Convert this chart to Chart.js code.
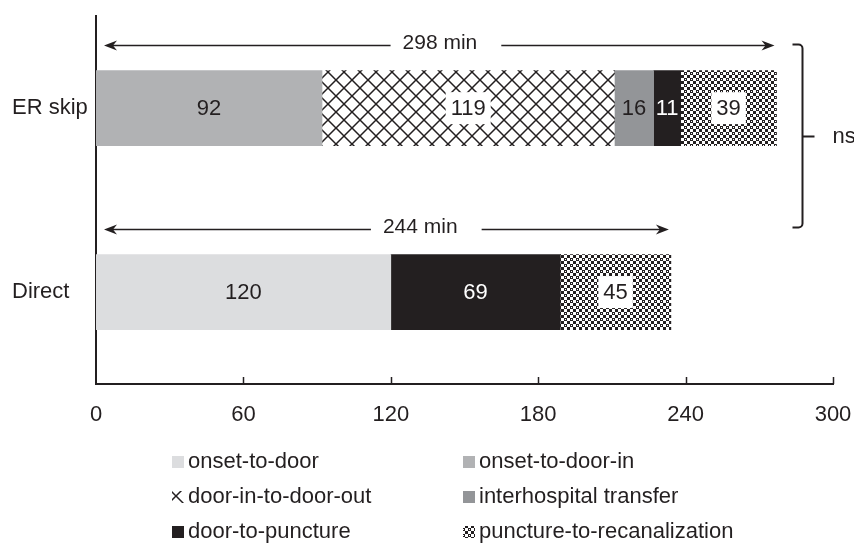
<!DOCTYPE html>
<html lang="en">
<head>
<meta charset="UTF-8">
<title>Onset-to-recanalization time: ER skip vs Direct</title>
<script src="https://cdn.jsdelivr.net/npm/chart.js"></script>
<style>
  html, body { margin: 0; padding: 0; background: #fff; }
  #chart { display: block; }
</style>
</head>
<body>
<canvas id="chart" width="854" height="553"></canvas>
<script>
// data
const categories = ['ER skip', 'Direct'];
const onsetToDoor = [null, 120];
const onsetToDoorIn = [92, null];
const doorInToDoorOut = [119, null];
const interhospitalTransfer = [16, null];
const doorToPuncture = [11, 69];
const punctureToRecanalization = [39, 45];
const totalMinutes = [298, 244];
const xTicks = [0, 60, 120, 180, 240, 300];
const significance = 'ns';

// where the "min" labels sit along each arrow (x value)
const totalLabelAt = [140, 132];

const INK = '#231f20';
const FONT_FAMILY = '"Liberation Sans", Arial, Helvetica, sans-serif';
const FONT = '22px ' + FONT_FAMILY;

function latticePattern() {
  const c = document.createElement('canvas');
  c.width = 16; c.height = 16;
  const g = c.getContext('2d');
  g.fillStyle = '#fff';
  g.fillRect(0, 0, 16, 16);
  g.strokeStyle = INK;
  g.lineWidth = 1.5;
  g.beginPath();
  for (const dx of [-16, 0, 16]) {
    g.moveTo(dx - 2, -2); g.lineTo(dx + 18, 18);
    g.moveTo(dx + 18, -2); g.lineTo(dx - 2, 18);
  }
  g.stroke();
  return g.createPattern(c, 'repeat');
}

function checkerPattern() {
  const c = document.createElement('canvas');
  c.width = 6; c.height = 6;
  const g = c.getContext('2d');
  g.fillStyle = '#fff';
  g.fillRect(0, 0, 6, 6);
  g.fillStyle = INK;
  g.fillRect(0, 0, 3, 3);
  g.fillRect(3, 3, 3, 3);
  g.fillStyle = '#fff';
  g.fillRect(1, 1, 1, 1);
  g.fillStyle = INK;
  g.fillRect(4, 4, 1, 1);
  return g.createPattern(c, 'repeat');
}

const datasets = [
  { label: 'onset-to-door', data: onsetToDoor, backgroundColor: '#dcdddf' },
  { label: 'onset-to-door-in', data: onsetToDoorIn, backgroundColor: '#b1b2b4' },
  { label: 'door-in-to-door-out', data: doorInToDoorOut, backgroundColor: latticePattern(), labelBox: true },
  { label: 'interhospital transfer', data: interhospitalTransfer, backgroundColor: '#939598' },
  { label: 'door-to-puncture', data: doorToPuncture, backgroundColor: INK, labelColor: '#fff' },
  { label: 'puncture-to-recanalization', data: punctureToRecanalization, backgroundColor: checkerPattern(), labelBox: true }
].map(d => Object.assign({ barThickness: 75, borderWidth: 0 }, d));

// numbers inside the segments
const valueLabels = {
  id: 'valueLabels',
  afterDatasetsDraw(chart) {
    const ctx = chart.ctx;
    ctx.save();
    ctx.font = FONT;
    ctx.textAlign = 'center';
    ctx.textBaseline = 'middle';
    chart.data.datasets.forEach((ds, di) => {
      chart.getDatasetMeta(di).data.forEach((bar, i) => {
        const v = ds.data[i];
        if (v == null) return;
        const p = bar.getCenterPoint();
        const txt = String(v);
        if (ds.labelBox) {
          const w = ctx.measureText(txt).width + 10;
          ctx.fillStyle = '#fff';
          ctx.fillRect(p.x - w / 2, p.y - 16, w, 32);
        }
        ctx.fillStyle = ds.labelColor || INK;
        ctx.fillText(txt, p.x, p.y + 1);
      });
    });
    ctx.restore();
  }
};

function arrowHead(ctx, x, y, dir) {
  ctx.beginPath();
  ctx.moveTo(x, y);
  ctx.lineTo(x - dir * 13, y - 5);
  ctx.lineTo(x - dir * 9, y);
  ctx.lineTo(x - dir * 13, y + 5);
  ctx.closePath();
  ctx.fill();
}

// total-time arrows, bracket, x tick marks and legend
const annotations = {
  id: 'annotations',
  afterDraw(chart) {
    const ctx = chart.ctx;
    const xs = chart.scales.x, ys = chart.scales.y;
    const area = chart.chartArea;
    ctx.save();
    ctx.strokeStyle = INK;
    ctx.fillStyle = INK;

    // tick marks pointing up from the x axis
    ctx.lineWidth = 1.5;
    xTicks.slice(1).forEach(v => {
      const x = Math.round(xs.getPixelForValue(v)) + 0.5;
      ctx.beginPath();
      ctx.moveTo(x, area.bottom);
      ctx.lineTo(x, area.bottom - 7);
      ctx.stroke();
    });

    ctx.font = '21px ' + FONT_FAMILY;
    const arrowY = [];
    categories.forEach((c, i) => {
      const total = chart.data.datasets.reduce((s, ds) => s + (ds.data[i] || 0), 0);
      const y = Math.round(ys.getPixelForValue(i) - 63) + 0.5;
      arrowY.push(y);
      const x0 = xs.getPixelForValue(0) + 8;
      const x1 = xs.getPixelForValue(total) - 2;
      ctx.lineWidth = 1.5;
      ctx.beginPath();
      ctx.moveTo(x0 + 4, y);
      ctx.lineTo(x1 - 4, y);
      ctx.stroke();
      arrowHead(ctx, x0, y, -1);
      arrowHead(ctx, x1, y, 1);

      const txt = totalMinutes[i] + ' min';
      const cx = xs.getPixelForValue(totalLabelAt[i]);
      const w = ctx.measureText(txt).width;
      ctx.fillStyle = '#fff';
      ctx.fillRect(cx - w / 2 - 12, y - 12, w + 36, 24);
      ctx.fillStyle = INK;
      ctx.textAlign = 'center';
      ctx.textBaseline = 'middle';
      ctx.fillText(txt, cx, y - 2);
    });

    // bracket with "ns"
    ctx.font = FONT;
    const bx = area.right - 30.5;
    const top = arrowY[0] - 1, bot = arrowY[1] - 2;
    const mid = Math.round((top + bot) / 2) + 0.5;
    ctx.lineWidth = 2;
    ctx.beginPath();
    ctx.moveTo(bx - 10, top);
    ctx.arcTo(bx, top, bx, top + 4, 4);
    ctx.lineTo(bx, bot - 4);
    ctx.arcTo(bx, bot, bx - 10, bot, 4);
    ctx.lineTo(bx - 10, bot);
    ctx.moveTo(bx, mid);
    ctx.lineTo(bx + 12, mid);
    ctx.stroke();
    ctx.textAlign = 'left';
    ctx.textBaseline = 'middle';
    ctx.fillText(significance, bx + 30, mid);

    // legend, two columns
    const cols = [172, 463], rows = [462, 497, 532];
    chart.data.datasets.forEach((ds, i) => {
      const lx = cols[i % 2], ly = rows[Math.floor(i / 2)];
      ctx.fillStyle = ds.backgroundColor;
      ctx.fillRect(lx, ly - 6, 12, 12);
      ctx.fillStyle = INK;
      ctx.textAlign = 'left';
      ctx.textBaseline = 'middle';
      ctx.fillText(ds.label, lx + 16, ly);
    });
    ctx.restore();
  }
};

new Chart(document.getElementById('chart'), {
  type: 'bar',
  data: { labels: categories, datasets: datasets },
  options: {
    indexAxis: 'y',
    responsive: false,
    animation: false,
    devicePixelRatio: 1,
    layout: { padding: { left: 12, right: 21, top: 8, bottom: 0 } },
    plugins: { legend: { display: false }, tooltip: { enabled: false } },
    scales: {
      x: {
        stacked: true,
        min: 0,
        max: 300,
        afterBuildTicks: s => { s.ticks = xTicks.map(v => ({ value: v })); },
        afterFit: s => { s.height = 169; s.paddingLeft = 0; s.paddingRight = 0; },
        grid: { display: false, drawTicks: false },
        border: { display: true, color: INK, width: 2 },
        ticks: { color: INK, padding: 18, font: { family: FONT_FAMILY, size: 22 } }
      },
      y: {
        stacked: true,
        afterFit: s => { s.width = 84; },
        grid: { display: false, drawTicks: false },
        border: { display: true, color: INK, width: 2 },
        ticks: { color: INK, crossAlign: 'far', font: { family: FONT_FAMILY, size: 22 } }
      }
    }
  },
  plugins: [valueLabels, annotations]
});
</script>
</body>
</html>
